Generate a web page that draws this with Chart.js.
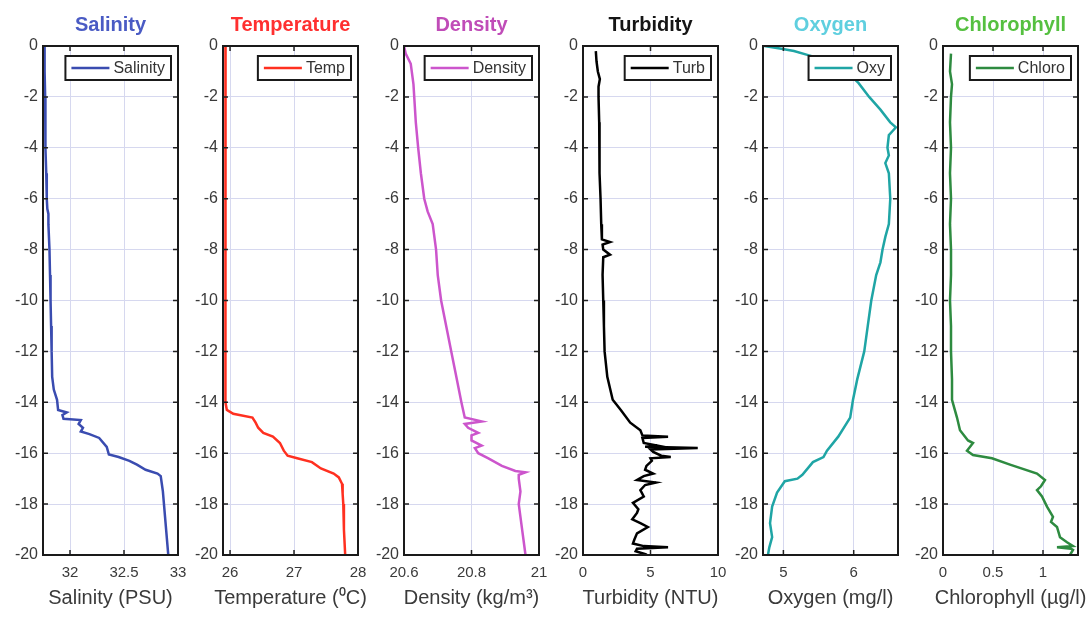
<!DOCTYPE html>
<html>
<head>
<meta charset="utf-8">
<title>CTD profiles</title>
<script src="https://cdn.jsdelivr.net/npm/chart.js@4.4.1/dist/chart.umd.min.js"></script>
<style>
body { margin: 0; background: #fff; }
#wrap { position: relative; width: 1092px; height: 617px; overflow: hidden; }
#wrap canvas { position: absolute; top: 0; }
</style>
</head>
<body>
<div id="wrap">
  <canvas id="c0" width="205" height="617" style="left:0px"></canvas>
  <canvas id="c1" width="205" height="617" style="left:180px"></canvas>
  <canvas id="c2" width="205" height="617" style="left:361px"></canvas>
  <canvas id="c3" width="205" height="617" style="left:540px"></canvas>
  <canvas id="c4" width="205" height="617" style="left:720px"></canvas>
  <canvas id="c5" width="205" height="617" style="left:900px"></canvas>
</div>
<script>
// depth ticks shared by all panels
const yTicks = [-20, -18, -16, -14, -12, -10, -8, -6, -4, -2, 0];

// salinity (PSU)
const salDepth = [0, -1, -2, -3, -4, -5, -6, -6.4, -6.6, -7, -8, -9, -10, -11, -12, -13, -13.5, -13.9, -14.3, -14.4, -14.5,
  -14.65, -14.7, -14.85, -15.0, -15.15, -15.25, -15.4, -15.75, -16.05, -16.15, -16.3, -16.45, -16.65, -16.8, -16.9,
  -17.2, -17.5, -18, -18.5, -19, -19.5, -20];
const salValue = [31.765, 31.765, 31.77, 31.77, 31.775, 31.78, 31.785, 31.79, 31.80, 31.80, 31.81, 31.815, 31.82, 31.825, 31.83, 31.835, 31.85, 31.88, 31.89, 31.97, 31.93,
  31.94, 32.10, 32.08, 32.12, 32.10, 32.18, 32.27, 32.34, 32.36, 32.45, 32.55, 32.62, 32.70, 32.81, 32.84,
  32.85, 32.86, 32.87, 32.88, 32.89, 32.90, 32.91];
const salTicks = [32, 32.5, 33];

// temperature (deg C)
const tempDepth = [0, -2, -4, -6, -8, -10, -12, -13, -14, -14.3, -14.45, -14.6, -14.8, -15.0, -15.2, -15.35, -15.6, -15.9,
  -16.1, -16.2, -16.35, -16.6, -16.8, -16.95, -17.2, -17.6, -18, -19, -20];
const tempValue = [25.93, 25.93, 25.925, 25.925, 25.925, 25.925, 25.93, 25.93, 25.935, 25.95, 26.05, 26.35, 26.40, 26.44, 26.52, 26.67, 26.78, 26.84,
  26.90, 27.05, 27.28, 27.42, 27.62, 27.70, 27.75, 27.76, 27.77, 27.78, 27.80];
const tempTicks = [26, 27, 28];

// density
const densDepth = [0, -0.3, -0.7, -1.5, -3, -4, -5, -6, -6.5, -7, -8, -9, -10, -11, -12, -13, -14, -14.6, -14.75, -14.85,
  -15.0, -15.2, -15.3, -15.5, -15.7, -15.8, -16.0, -16.2, -16.5, -16.7, -16.75, -16.85, -17.0, -17.5, -18, -18.5, -19, -19.5, -20];
const densValue = [20.60, 20.605, 20.62, 20.628, 20.635, 20.642, 20.65, 20.66, 20.67, 20.685, 20.695, 20.70, 20.71, 20.725, 20.74, 20.755, 20.77, 20.78, 20.83, 20.78,
  20.79, 20.82, 20.80, 20.80, 20.83, 20.81, 20.82, 20.85, 20.89, 20.93, 20.96, 20.94, 20.94, 20.945, 20.94, 20.945, 20.95, 20.955, 20.96];
const densTicks = [20.6, 20.8, 21];

// turbidity (NTU)
const turbDepth = [-0.2, -0.6, -1.0, -1.3, -1.6, -2, -3, -4, -5, -6, -7, -7.6, -7.7, -7.8, -8.0, -8.2, -8.3, -9, -10, -11,
  -12, -13, -13.9, -14.3, -14.8, -15.1, -15.3, -15.35, -15.4, -15.6, -15.7, -15.75, -15.8, -15.85, -15.95, -16.1, -16.15, -16.2, -16.3, -16.5,
  -16.65, -16.8, -16.9, -17.05, -17.15, -17.25, -17.45, -17.7, -17.95, -18.2, -18.35, -18.6, -18.75, -18.9, -19.15, -19.4, -19.55, -19.65, -19.7, -19.75,
  -19.85, -19.95, -20];
const turbValue = [0.95, 1.0, 1.1, 1.25, 1.15, 1.15, 1.2, 1.2, 1.25, 1.3, 1.35, 1.4, 2.0, 1.45, 1.5, 2.0, 1.5, 1.45, 1.5, 1.55,
  1.6, 1.8, 2.2, 2.8, 3.5, 4.25, 4.4, 6.3, 4.4, 4.5, 5.5, 4.6, 8.5, 5.0, 5.2, 5.8, 6.5, 5.0, 5.1, 4.7,
  4.6, 5.2, 4.5, 4.0, 5.4, 4.6, 4.25, 4.5, 3.7, 4.1, 4.0, 3.65, 4.25, 4.8, 4.0, 3.8, 3.7, 4.5, 6.3, 4.0,
  3.9, 4.5, 4.25];
const turbTicks = [0, 5, 10];

// dissolved oxygen (mg/l)
const oxyDepth = [0, -0.1, -0.2, -0.35, -0.6, -1.0, -1.46, -2.0, -2.5, -3.0, -3.2, -3.35, -3.5, -4.0, -4.3, -4.6, -5, -6, -7, -7.5,
  -8, -8.5, -9, -10, -11, -12, -13.1, -13.9, -14.6, -15.35, -15.9, -16.15, -16.35, -16.85, -17.0, -17.1, -17.55, -18.1, -18.75, -19.3,
  -19.7, -20];
const oxyValue = [4.73, 4.95, 5.15, 5.34, 5.65, 5.9, 6.07, 6.22, 6.38, 6.52, 6.6, 6.55, 6.5, 6.48, 6.50, 6.45, 6.5, 6.52, 6.5, 6.45,
  6.41, 6.38, 6.32, 6.25, 6.2, 6.15, 6.05, 5.99, 5.95, 5.78, 5.62, 5.57, 5.42, 5.27, 5.2, 5.02, 4.91, 4.84, 4.81, 4.84,
  4.8, 4.78];
const oxyTicks = [5, 6];

// chlorophyll (ug/l)
const chlDepth = [-0.3, -1, -1.5, -2, -3, -4, -5, -6, -7, -8, -9, -10, -11, -12, -13.1, -13.9, -14.6, -15.1, -15.5, -15.6,
  -15.9, -16.07, -16.2, -16.45, -16.8, -17.05, -17.3, -17.45, -17.7, -18.1, -18.5, -18.7, -18.9, -19.3, -19.5, -19.65, -19.7, -19.75, -19.8, -20];
const chlValue = [0.08, 0.07, 0.09, 0.08, 0.07, 0.08, 0.07, 0.08, 0.07, 0.08, 0.08, 0.07, 0.08, 0.08, 0.09, 0.09, 0.14, 0.17, 0.25, 0.30,
  0.24, 0.30, 0.49, 0.67, 0.94, 1.02, 0.98, 0.94, 0.99, 1.04, 1.10, 1.08, 1.14, 1.17, 1.24, 1.30, 1.14, 1.28, 1.30, 1.27];
const chlTicks = [0, 0.5, 1];

const FONT = '"Liberation Sans", Arial, sans-serif';
Chart.defaults.font.family = FONT;
Chart.defaults.color = '#3a3a3a';

// matlab-ish frame: box, inward ticks, titles and a legend inside the axes
const matlabBox = {
    id: 'matlabBox',
    afterDraw(chart, args, opts) {
        const ctx = chart.ctx;
        const a = chart.chartArea;
        const xs = chart.scales.x;
        const ys = chart.scales.y;
        const cx = (a.left + a.right) / 2;
        ctx.save();

        ctx.strokeStyle = '#222';
        ctx.lineWidth = 1.5;
        ctx.beginPath();
        xs.ticks.forEach(function (t) {
            const px = xs.getPixelForValue(t.value);
            ctx.moveTo(px, a.bottom); ctx.lineTo(px, a.bottom - 5);
            ctx.moveTo(px, a.top); ctx.lineTo(px, a.top + 5);
        });
        ys.ticks.forEach(function (t) {
            const py = ys.getPixelForValue(t.value);
            ctx.moveTo(a.left, py); ctx.lineTo(a.left + 5, py);
            ctx.moveTo(a.right, py); ctx.lineTo(a.right - 5, py);
        });
        ctx.stroke();

        ctx.lineWidth = 2;
        ctx.strokeStyle = '#1a1a1a';
        ctx.strokeRect(a.left, a.top, a.right - a.left, a.bottom - a.top);

        // panel title
        ctx.font = 'bold 20px ' + FONT;
        ctx.fillStyle = opts.titleColor;
        ctx.textAlign = 'center';
        ctx.textBaseline = 'alphabetic';
        ctx.fillText(opts.title, cx, 31);

        // x axis title (drawn here so it is not squeezed to the axis width)
        ctx.font = '20px ' + FONT;
        ctx.fillStyle = '#3a3a3a';
        ctx.textBaseline = 'middle';
        ctx.fillText(opts.axisTitle, cx, 598);

        // legend
        ctx.font = '16px ' + FONT;
        const tw = ctx.measureText(opts.legend).width;
        const w = 6 + 38 + 4 + tw + 6;
        const h = 24;
        const bx = a.right - 7 - w;
        const by = a.top + 10;
        ctx.fillStyle = '#fff';
        ctx.fillRect(bx, by, w, h);
        ctx.lineWidth = 2;
        ctx.strokeStyle = '#1a1a1a';
        ctx.strokeRect(bx, by, w, h);
        ctx.strokeStyle = opts.lineColor;
        ctx.lineWidth = 2.5;
        ctx.beginPath();
        ctx.moveTo(bx + 6, by + h / 2);
        ctx.lineTo(bx + 44, by + h / 2);
        ctx.stroke();
        ctx.fillStyle = '#333';
        ctx.textAlign = 'left';
        ctx.fillText(opts.legend, bx + 48, by + h / 2 + 1);

        ctx.restore();
    }
};

function makeProfile(canvasId, depth, values, ticks, xMin, xMax, cfg) {
    const ctx = document.getElementById(canvasId).getContext('2d');
    const points = depth.map(function (d, i) { return { x: values[i], y: d }; });
    return new Chart(ctx, {
        type: 'scatter',
        data: {
            datasets: [{
                label: cfg.legend,
                data: points,
                showLine: true,
                borderColor: cfg.lineColor,
                backgroundColor: cfg.lineColor,
                borderWidth: 2.5,
                pointRadius: 0,
                tension: 0
            }]
        },
        plugins: [matlabBox],
        options: {
            responsive: false,
            animation: false,
            layout: { padding: { left: 0, right: 27, top: 46, bottom: 8 } },
            plugins: {
                legend: { display: false },
                tooltip: { enabled: false },
                matlabBox: cfg
            },
            scales: {
                x: {
                    type: 'linear',
                    min: xMin,
                    max: xMax,
                    afterBuildTicks: function (s) { s.ticks = ticks.map(function (v) { return { value: v }; }); },
                    afterFit: function (s) { s.height = 54; },
                    grid: { color: '#d6d8ef', lineWidth: 1, drawTicks: false },
                    border: { display: false },
                    ticks: {
                        padding: 9,
                        font: { size: 15 },
                        color: '#3a3a3a',
                        maxRotation: 0,
                        callback: function (v) { return String(v); }
                    }
                },
                y: {
                    type: 'linear',
                    min: -20,
                    max: 0,
                    afterBuildTicks: function (s) { s.ticks = yTicks.map(function (v) { return { value: v }; }); },
                    afterFit: function (s) { s.width = 43; },
                    grid: { color: '#d6d8ef', lineWidth: 1, drawTicks: false },
                    border: { display: false },
                    ticks: {
                        padding: 5,
                        font: { size: 16 },
                        color: '#3a3a3a',
                        callback: function (v) { return String(v); }
                    }
                }
            }
        }
    });
}

makeProfile('c0', salDepth, salValue, salTicks, 31.75, 33, {
    title: 'Salinity', titleColor: '#4a5bc4', legend: 'Salinity', lineColor: '#3a4cb0', axisTitle: 'Salinity (PSU)'
});
makeProfile('c1', tempDepth, tempValue, tempTicks, 25.89, 28, {
    title: 'Temperature', titleColor: '#ff3030', legend: 'Temp', lineColor: '#ff3020', axisTitle: 'Temperature (\u2070C)'
});
makeProfile('c2', densDepth, densValue, densTicks, 20.6, 21, {
    title: 'Density', titleColor: '#c04cb8', legend: 'Density', lineColor: '#cc55cc', axisTitle: 'Density (kg/m\u00b3)'
});
makeProfile('c3', turbDepth, turbValue, turbTicks, 0, 10, {
    title: 'Turbidity', titleColor: '#151515', legend: 'Turb', lineColor: '#000000', axisTitle: 'Turbidity (NTU)'
});
makeProfile('c4', oxyDepth, oxyValue, oxyTicks, 4.71, 6.63, {
    title: 'Oxygen', titleColor: '#5fcfdf', legend: 'Oxy', lineColor: '#1fa5a5', axisTitle: 'Oxygen (mg/l)'
});
makeProfile('c5', chlDepth, chlValue, chlTicks, 0, 1.35, {
    title: 'Chlorophyll', titleColor: '#55c040', legend: 'Chloro', lineColor: '#2e8b40', axisTitle: 'Chlorophyll (\u00b5g/l)'
});
</script>
</body>
</html>
